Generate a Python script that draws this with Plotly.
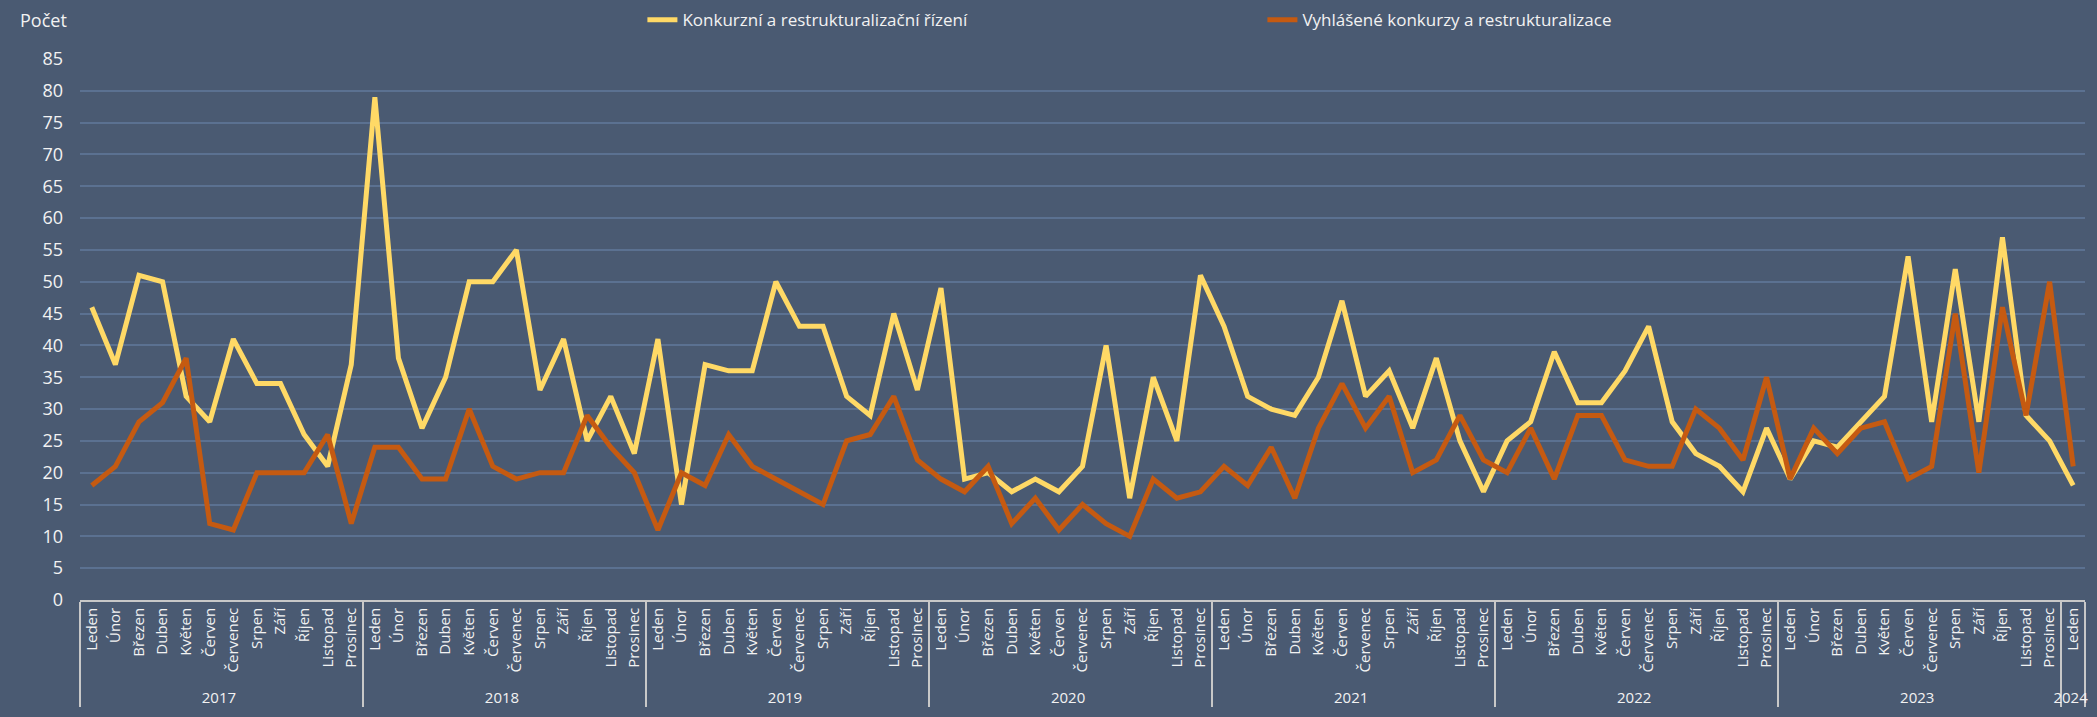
import plotly.graph_objects as go

MONTHS = ["Leden", "Únor", "Březen", "Duben", "Květen", "Červen", "Červenec",
          "Srpen", "Září", "Říjen", "Listopad", "Prosinec"]
YEARS = ["2017", "2018", "2019", "2020", "2021", "2022", "2023"]

year_labels = [y for y in YEARS for _ in MONTHS] + ["2024"]
month_labels = MONTHS * len(YEARS) + ["Leden"]

konkurzni = [46, 37, 51, 50, 32, 28, 41, 34, 34, 26, 21, 37,
             79, 38, 27, 35, 50, 50, 55, 33, 41, 25, 32, 23,
             41, 15, 37, 36, 36, 50, 43, 43, 32, 29, 45, 33,
             49, 19, 20, 17, 19, 17, 21, 40, 16, 35, 25, 51,
             43, 32, 30, 29, 35, 47, 32, 36, 27, 38, 25, 17,
             25, 28, 39, 31, 31, 36, 43, 28, 23, 21, 17, 27,
             19, 25, 24, 28, 32, 54, 28, 52, 28, 57, 29, 25,
             18]

vyhlasene = [18, 21, 28, 31, 38, 12, 11, 20, 20, 20, 26, 12,
             24, 24, 19, 19, 30, 21, 19, 20, 20, 29, 24, 20,
             11, 20, 18, 26, 21, 19, 17, 15, 25, 26, 32, 22,
             19, 17, 21, 12, 16, 11, 15, 12, 10, 19, 16, 17,
             21, 18, 24, 16, 27, 34, 27, 32, 20, 22, 29, 22,
             20, 27, 19, 29, 29, 22, 21, 21, 30, 27, 22, 35,
             19, 27, 23, 27, 28, 19, 21, 45, 20, 46, 29, 50,
             21]

BG = "#4a5a72"
GRID = "#5b7191"
TEXT = "#f2f2f2"
FONT = "Open Sans"

fig = go.Figure()

fig.add_trace(go.Scatter(
    x=[year_labels, month_labels],
    y=konkurzni,
    mode="lines",
    name="Konkurzní a restrukturalizační řízení",
    line=dict(color="#FFD966", width=5),
))

fig.add_trace(go.Scatter(
    x=[year_labels, month_labels],
    y=vyhlasene,
    mode="lines",
    name="Vyhlášené konkurzy a restrukturalizace",
    line=dict(color="#C55A11", width=5),
))

fig.update_xaxes(
    type="multicategory",
    range=[-0.5, len(month_labels) - 0.5],
    tickangle=-90,
    tickfont=dict(family=FONT, size=15, color=TEXT),
    showgrid=False,
    showline=True,
    linecolor="#c8c8c8",
    linewidth=1.5,
    showdividers=True,
    dividercolor="#c8c8c8",
    dividerwidth=1.5,
    ticks="",
    automargin=False,
)

fig.update_yaxes(
    range=[0, 85],
    dtick=5,
    showgrid=True,
    gridcolor=GRID,
    gridwidth=1.5,
    zeroline=False,
    tickfont=dict(family=FONT, size=18, color=TEXT),
    ticklabelstandoff=16,
    automargin=False,
)

# popisek osy y vlevo nahoře
fig.add_annotation(
    text="Počet", xref="paper", yref="paper",
    x=-0.031, y=1.072, xanchor="left", yanchor="middle",
    showarrow=False, font=dict(family=FONT, size=18, color=TEXT),
)

fig.update_layout(
    width=2097,
    height=717,
    paper_bgcolor=BG,
    plot_bgcolor=BG,
    margin=dict(l=80, r=12, t=59, b=117, autoexpand=False),
    font=dict(family=FONT, color=TEXT),
    showlegend=True,
    legend=dict(
        orientation="h",
        x=0.2805, xanchor="left",
        yref="container", y=0.972, yanchor="middle",
        bgcolor="rgba(0,0,0,0)",
        font=dict(family=FONT, size=17, color=TEXT),
        entrywidth=575,
        entrywidthmode="pixels",
    ),
)

fig.write_html("out.html", config={"displayModeBar": False},
               post_script="document.body.style.margin='0';")
